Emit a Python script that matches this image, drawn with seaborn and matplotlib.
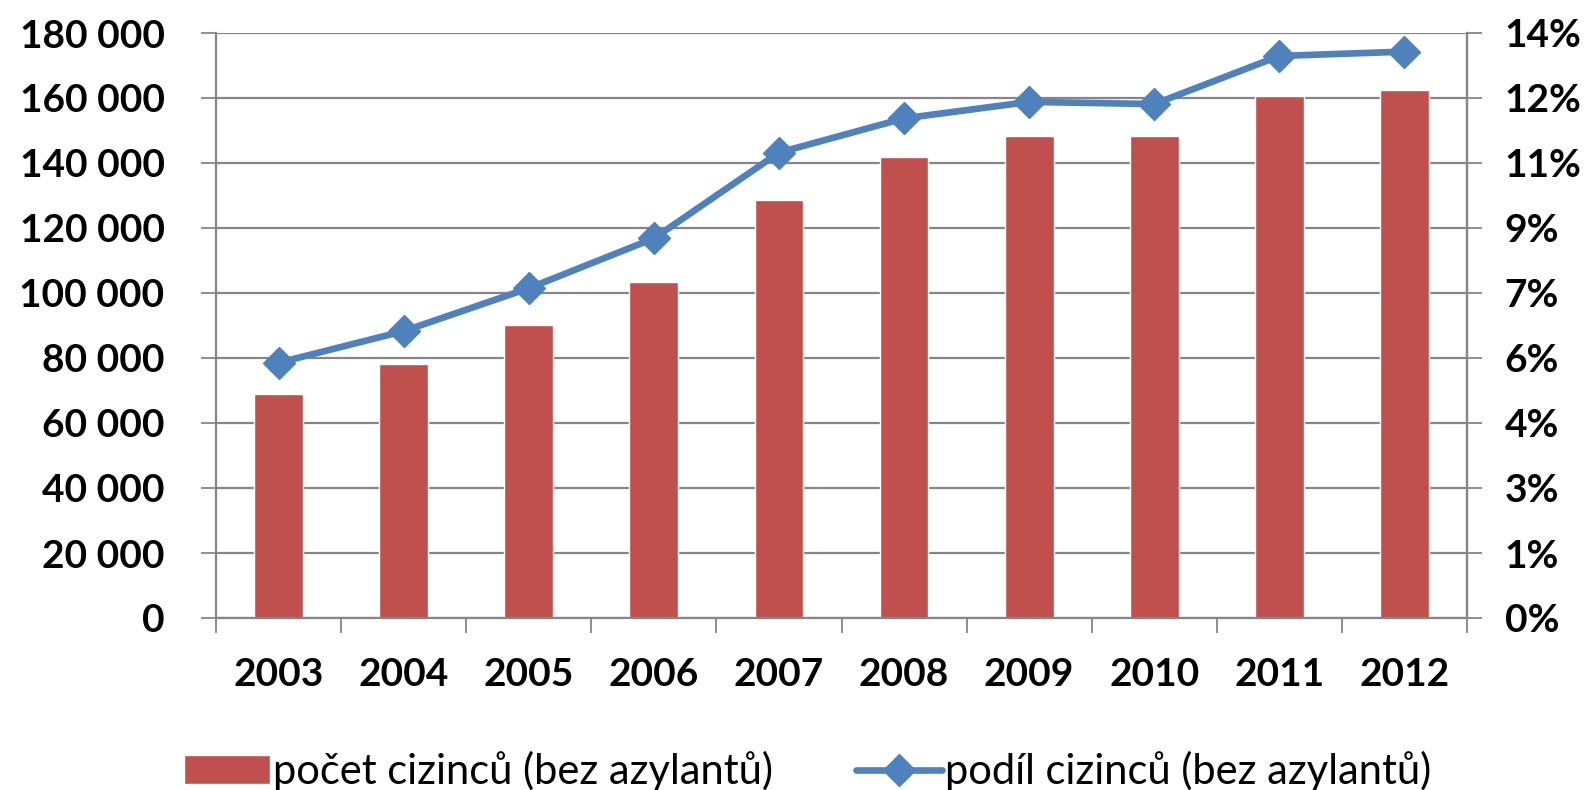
import numpy as np
import pandas as pd
import matplotlib
matplotlib.use('Agg')
import matplotlib.pyplot as plt
import seaborn as sns

# data
years = ['2003', '2004', '2005', '2006', '2007', '2008', '2009', '2010', '2011', '2012']
pocet = [68900, 78100, 90300, 103400, 128600, 141800, 148400, 148400, 160600, 162400]
podil = [0.0589, 0.0662, 0.0761, 0.0876, 0.1074, 0.1153, 0.1191, 0.1186, 0.1297, 0.1307]
left_ticks = [0, 20000, 40000, 60000, 80000, 100000, 120000, 140000, 160000, 180000]
left_labels = ['0', '20 000', '40 000', '60 000', '80 000', '100 000', '120 000', '140 000', '160 000', '180 000']
right_labels = ['0%', '1%', '3%', '4%', '6%', '7%', '9%', '11%', '12%', '14%']
bar_label = 'počet cizinců (bez azylantů)'
line_label = 'podíl cizinců (bez azylantů)'

sns.set_theme(style='white')
plt.rcParams['font.family'] = ['Lato', 'DejaVu Sans']
plt.rcParams['text.color'] = 'black'
plt.rcParams['xtick.color'] = 'black'
plt.rcParams['ytick.color'] = 'black'

df = pd.DataFrame({'rok': years, 'pocet': pocet, 'podil': podil})

GREY = '#868686'
RED = '#C0504D'
BLUE = '#4F81BD'
TICK_FS = 28

fig = plt.figure(figsize=(15.87, 7.90), dpi=100)
ax = fig.add_axes([216 / 1587, 1 - 618 / 790, (1467 - 216) / 1587, (618 - 33) / 790])

sns.barplot(data=df, x='rok', y='pocet', color=RED, width=0.39, saturation=1,
            ax=ax, label=bar_label, zorder=2)
ax.set_ylim(0, 180000)
ax.set_xlim(-0.5, 9.5)
ax.set_yticks(left_ticks)
ax.set_yticklabels(left_labels)
ax.set_xlabel('')
ax.set_ylabel('')
ax.yaxis.grid(True, color=GREY, linewidth=1.6, zorder=0)
ax.set_axisbelow(True)

# category ticks between the bars, like Excel
ax.set_xticks(np.arange(-0.5, 10, 1), minor=True)
ax.tick_params(axis='x', which='minor', length=11, width=1.3, color=GREY, direction='out', bottom=True)
ax.tick_params(axis='x', which='major', length=0, pad=28, labelsize=TICK_FS, labelcolor='black')
ax.tick_params(axis='y', length=11, width=1.3, color=GREY, direction='out', left=True, pad=26,
               labelsize=TICK_FS, labelcolor='black')
for lab in ax.get_xticklabels() + ax.get_yticklabels():
    lab.set_fontweight('bold')

for side in ['left', 'bottom', 'right']:
    ax.spines[side].set_color(GREY)
    ax.spines[side].set_linewidth(1.6)
ax.spines['top'].set_visible(False)

ax2 = ax.twinx()
sns.lineplot(data=df, x='rok', y='podil', color=BLUE, linewidth=4.8, marker='D',
             markersize=16, markeredgecolor=BLUE, markeredgewidth=1, ax=ax2,
             label=line_label, legend=False, sort=False)
ax2.set_ylim(0, 0.135)
ax2.set_yticks(np.linspace(0, 0.135, 10))
ax2.set_yticklabels(right_labels)
ax2.set_ylabel('')
ax2.tick_params(axis='y', length=11, width=1.3, color=GREY, direction='out', right=True, pad=16,
                labelsize=TICK_FS, labelcolor='black')
for lab in ax2.get_yticklabels():
    lab.set_fontweight('bold')
for side in ['left', 'bottom', 'top']:
    ax2.spines[side].set_visible(False)
ax2.spines['right'].set_color(GREY)
ax2.spines['right'].set_linewidth(1.6)
ax2.set_xlim(-0.5, 9.5)

h1, l1 = ax.get_legend_handles_labels()
h2, l2 = ax2.get_legend_handles_labels()
if ax.get_legend() is not None:
    ax.get_legend().remove()
fig.legend(h1 + h2, l1 + l2, loc='center', bbox_to_anchor=(0.509, 0.024), ncol=2,
           frameon=False, fontsize=30, handlelength=2.05, handleheight=0.7,
           handletextpad=0.08, columnspacing=2.0)

fig.savefig('out.png', dpi=100)
